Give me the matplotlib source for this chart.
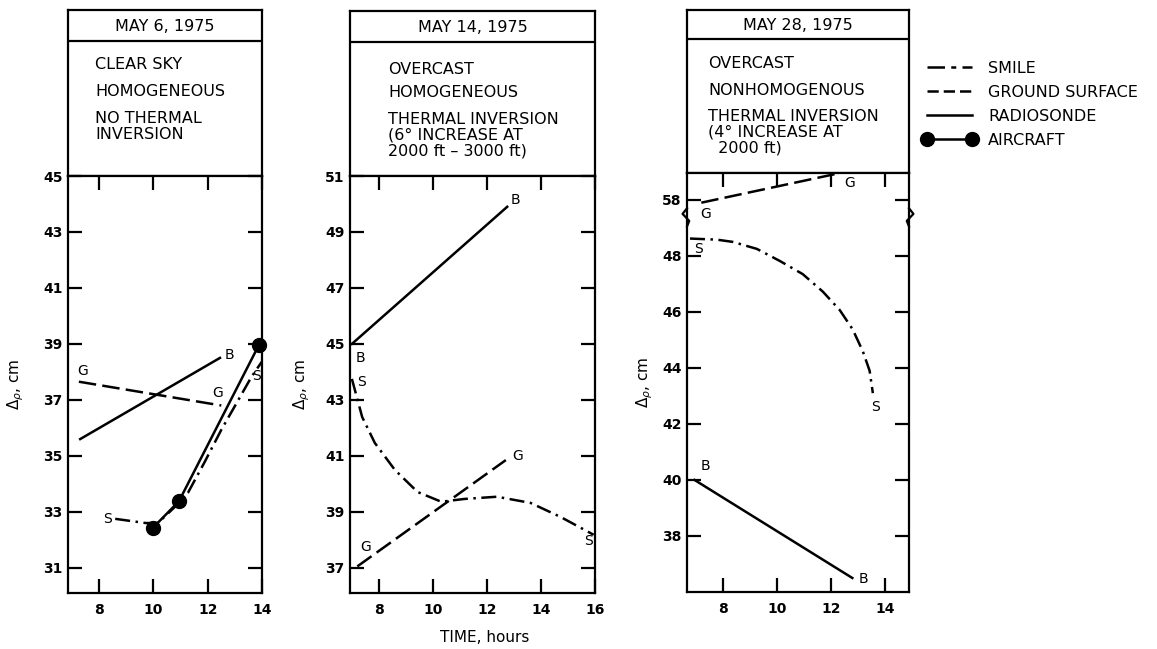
#!/usr/bin/env python3
"""Path-delay comparison for three days in May 1975: SMILE vs ground, radiosonde, aircraft."""
import matplotlib.pyplot as plt
from matplotlib.lines import Line2D

W, H = 1157, 649

# --- May 6, 1975 ---------------------------------------------------------
may6_smile_t = [8.59, 9.71, 10.16, 10.75, 11.27, 11.87, 12.5, 13.13, 13.61, 13.99]
may6_smile_d = [32.75, 32.6, 32.6, 33.14, 33.68, 34.75, 35.93, 37.0, 37.82, 38.36]
may6_ground_t = [7.25, 12.5]
may6_ground_d = [37.65, 36.8]
may6_sonde_t = [7.3, 12.45]
may6_sonde_d = [35.6, 38.5]
may6_air_t = [9.98, 10.94, 13.88]
may6_air_d = [32.43, 33.38, 38.95]

# --- May 14, 1975 --------------------------------------------------------
may14_smile_t = [7.0, 7.38, 7.85, 8.59, 9.43, 10.31, 11.16, 12.37, 13.61, 14.72, 15.95]
may14_smile_d = [43.75, 42.39, 41.46, 40.5, 39.71, 39.36, 39.46, 39.54, 39.32, 38.82, 38.18]
may14_ground_t = [7.2, 12.7]
may14_ground_d = [37.05, 40.85]
may14_sonde_t = [7.0, 12.75]
may14_sonde_d = [45.0, 49.9]

# --- May 28, 1975 (axis broken between 48 and 58) ------------------------
may28_smile_t = [6.78, 7.78, 8.37, 9.26, 10.11, 10.96, 11.7, 12.33, 12.81, 13.19, 13.44, 13.56]
may28_smile_d = [48.62, 48.58, 48.5, 48.25, 47.82, 47.35, 46.73, 46.07, 45.38, 44.59, 43.9, 43.1]
may28_ground_t = [7.2, 12.3]
may28_ground_d = [57.9, 58.95]
may28_sonde_t = [6.95, 12.8]
may28_sonde_d = [40.0, 36.5]

headers = ["MAY 6, 1975", "MAY 14, 1975", "MAY 28, 1975"]
conditions = [
    ["CLEAR SKY", "HOMOGENEOUS", "NO THERMAL\nINVERSION"],
    ["OVERCAST", "HOMOGENEOUS", "THERMAL INVERSION\n(6° INCREASE AT\n2000 ft \u2013 3000 ft)"],
    ["OVERCAST", "NONHOMOGENOUS", "THERMAL INVERSION\n(4° INCREASE AT\n  2000 ft)"],
]
legend_labels = ["SMILE", "GROUND SURFACE", "RADIOSONDE", "AIRCRAFT"]

BREAK_SHIFT = 8.0  # 58 on the broken axis sits where 50 would be


def brk(vals):
    return [v - BREAK_SHIFT if v > 53 else v for v in vals]


SMILE = (0, (6, 2.2, 1, 2.2))
GROUND = (0, (7, 2.5))
LW = 1.8
FS = 11.5      # header / legend text
TFS = 10       # tick labels and curve tags

plt.rcParams["font.family"] = ["DejaVu Sans"]
plt.rcParams["font.size"] = FS

fig = plt.figure(figsize=(W / 100, H / 100), dpi=100)


def px_axes(left, right, top, bottom):
    return fig.add_axes([left / W, (H - bottom) / H, (right - left) / W, (bottom - top) / H])


def header_box(left, right, top, bottom, divider, date, lines, text_xs, text_ys):
    hx = px_axes(left, right, top, bottom)
    hx.set_xlim(0, right - left)
    hx.set_ylim(bottom - top, 0)
    hx.set_xticks([])
    hx.set_yticks([])
    for s in hx.spines.values():
        s.set_linewidth(1.6)
    hx.axhline(divider - top, color="black", lw=1.6)
    hx.text((right - left) / 2, (divider - top) / 2 + 1, date, ha="center", va="center", fontsize=FS)
    for txt, x, y in zip(lines, text_xs, text_ys):
        hx.text(x - left, y - top, txt, ha="left", va="top", fontsize=FS, linespacing=1.08)


def style_axes(ax, xticks, yticks):
    for s in ax.spines.values():
        s.set_linewidth(1.6)
    ax.set_xticks(xticks)
    ax.set_yticks(yticks)
    ax.tick_params(direction="in", length=10, width=1.6, top=True, right=True,
                   labelsize=TFS, pad=4)
    ax.tick_params(axis="x", pad=7)
    for lab in ax.get_xticklabels() + ax.get_yticklabels():
        lab.set_fontweight("bold")


def tag(ax, x, y, s):
    ax.text(x, y, s, ha="center", va="center", fontsize=TFS)


YLABEL = "\u0394$_\\rho$, cm"

# Panel 1
header_box(68, 262, 10, 176, 41, headers[0], conditions[0], [95, 95, 95], [57, 84, 111])
ax1 = px_axes(68, 262, 176, 593)
ax1.plot(may6_smile_t, may6_smile_d, color="black", lw=LW, ls=SMILE)
ax1.plot(may6_ground_t, may6_ground_d, color="black", lw=LW, ls=GROUND)
ax1.plot(may6_sonde_t, may6_sonde_d, color="black", lw=LW)
ax1.plot(may6_air_t, may6_air_d, color="black", lw=LW, marker="o", ms=10, clip_on=False)
ax1.set_xlim(6.85, 14.0)
ax1.set_ylim(30.1, 45)
style_axes(ax1, [8, 10, 12, 14], [31, 33, 35, 37, 39, 41, 43, 45])
ax1.set_ylabel(YLABEL, fontsize=11, labelpad=12)
tag(ax1, 7.4, 38.05, "G")
tag(ax1, 12.8, 38.6, "B")
tag(ax1, 12.35, 37.25, "G")
tag(ax1, 8.3, 32.75, "S")
tag(ax1, 13.78, 37.85, "S")

# Panel 2
header_box(350, 595, 11, 176, 42, headers[1], conditions[1], [388, 388, 388], [62, 85, 112])
ax2 = px_axes(350, 595, 176, 593)
ax2.plot(may14_smile_t, may14_smile_d, color="black", lw=LW, ls=SMILE)
ax2.plot(may14_ground_t, may14_ground_d, color="black", lw=LW, ls=GROUND)
ax2.plot(may14_sonde_t, may14_sonde_d, color="black", lw=LW)
ax2.set_xlim(6.93, 16.0)
ax2.set_ylim(36.1, 51)
style_axes(ax2, [8, 10, 12, 14, 16], [37, 39, 41, 43, 45, 47, 49, 51])
ax2.set_ylabel(YLABEL, fontsize=11, labelpad=9)
ax2.set_xlabel("TIME, hours", fontsize=11)
ax2.xaxis.set_label_coords(0.55, -0.088)
tag(ax2, 7.3, 44.5, "B")
tag(ax2, 13.05, 50.15, "B")
tag(ax2, 7.35, 43.65, "S")
tag(ax2, 15.75, 37.95, "S")
tag(ax2, 7.5, 37.75, "G")
tag(ax2, 13.15, 41.0, "G")

# Panel 3
header_box(687, 909, 10, 173, 39, headers[2], conditions[2], [708, 708, 708], [56, 83, 109])
ax3 = px_axes(687, 909, 173, 592)
ax3.plot(may28_smile_t, may28_smile_d, color="black", lw=LW, ls=SMILE)
ax3.plot(may28_ground_t, brk(may28_ground_d), color="black", lw=LW, ls=GROUND, clip_on=False)
ax3.plot(may28_sonde_t, may28_sonde_d, color="black", lw=LW)
ax3.set_xlim(6.67, 14.9)
ax3.set_ylim(36.0, 50.96)
style_axes(ax3, [8, 10, 12, 14], [38, 40, 42, 44, 46, 48, 50])
ax3.set_yticklabels(["38", "40", "42", "44", "46", "48", "58"])
ax3.set_ylabel(YLABEL, fontsize=11, labelpad=5)
tag(ax3, 7.35, 49.5, "G")
tag(ax3, 12.7, 50.6, "G")
tag(ax3, 7.1, 48.25, "S")
tag(ax3, 13.65, 42.6, "S")
tag(ax3, 7.35, 40.5, "B")
tag(ax3, 13.2, 36.45, "B")
# zigzag break marks on both spines
for x0, sgn in ((0.0, -1), (1.0, 1)):
    ax3.plot([x0, x0 + sgn * 0.02, x0 - sgn * 0.01, x0],
             [49.7, 49.5, 49.25, 49.05], color="black", lw=1.6,
             transform=ax3.get_yaxis_transform(), clip_on=False)

# Legend
handles = [
    Line2D([], [], color="black", lw=LW, ls=(0, (7, 2.5, 2, 2.5))),
    Line2D([], [], color="black", lw=LW, ls=(0, (4.5, 2))),
    Line2D([], [], color="black", lw=LW),
    Line2D([], [], color="black", lw=LW, marker="o", ms=10),
]
fig.legend(handles, legend_labels, loc="upper left", bbox_to_anchor=(922 / W, 1 - 61 / H),
           frameon=False, handlelength=3.4, handletextpad=0.75, labelspacing=0.56,
           numpoints=2, fontsize=FS, borderpad=0, borderaxespad=0)

fig.savefig("out.png", dpi=100)
